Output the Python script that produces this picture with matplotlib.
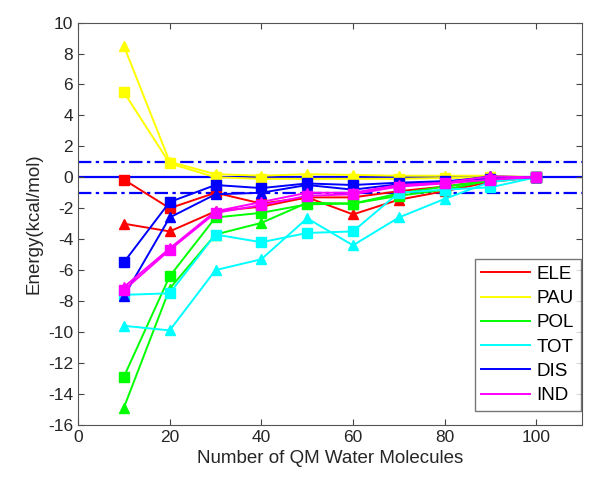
"""Energy convergence vs number of QM water molecules."""

import matplotlib

matplotlib.use("Agg")
import matplotlib.pyplot as plt
from matplotlib.lines import Line2D

n_water = [10, 20, 30, 40, 50, 60, 70, 80, 90, 100]

ele_sq = [-0.15, -2.0, -1.0, -1.7, -1.3, -1.3, -0.9, -0.6, -0.2, 0.0]
ele_tri = [-3.0, -3.5, -2.2, -1.9, -1.3, -2.4, -1.45, -0.9, -0.3, 0.0]
pau_sq = [5.5, 0.9, 0.0, -0.1, -0.1, -0.1, -0.1, -0.05, 0.0, 0.0]
pau_tri = [8.5, 1.0, 0.2, 0.1, 0.2, 0.15, 0.1, 0.1, 0.1, 0.0]
pol_sq = [-12.9, -6.4, -2.6, -2.3, -1.75, -1.7, -1.2, -0.8, -0.2, 0.0]
pol_tri = [-14.9, -7.2, -3.7, -2.95, -1.65, -1.7, -1.05, -0.6, -0.2, 0.0]
tot_sq = [-7.6, -7.5, -3.7, -4.2, -3.6, -3.5, -1.0, -0.8, -0.65, 0.0]
tot_tri = [-9.6, -9.9, -6.0, -5.3, -2.65, -4.4, -2.6, -1.4, -0.3, 0.0]
dis_sq = [-5.5, -1.6, -0.5, -0.7, -0.4, -0.5, -0.35, -0.25, -0.1, 0.0]
dis_tri = [-7.7, -2.6, -1.1, -1.0, -0.5, -0.8, -0.45, -0.3, 0.05, 0.0]
ind_sq = [-7.3, -4.7, -2.3, -1.8, -1.2, -1.1, -0.6, -0.4, -0.15, 0.0]
ind_tri = [-7.1, -4.6, -2.2, -1.6, -1.0, -1.0, -0.5, -0.35, 0.05, 0.0]

labels = ["ELE", "PAU", "POL", "TOT", "DIS", "IND"]
colors = ["#ff0000", "#ffff00", "#00ff00", "#00ffff", "#0000ff", "#ff00ff"]
series = [
    (ele_sq, ele_tri),
    (pau_sq, pau_tri),
    (pol_sq, pol_tri),
    (tot_sq, tot_tri),
    (dis_sq, dis_tri),
    (ind_sq, ind_tri),
]

plt.rcParams["font.family"] = ["Liberation Sans", "DejaVu Sans"]
plt.rcParams["axes.unicode_minus"] = False

fig = plt.figure(figsize=(5.91, 4.8), dpi=100)
ax = fig.add_axes([0.132, 0.115, 0.853, 0.838])

ax.axhline(0, color="#0000ff", lw=1.6, zorder=1)
ax.axhline(1, color="#0000ff", lw=1.6, ls=(0, (6, 2, 1.5, 2)), zorder=1)
ax.axhline(-1, color="#0000ff", lw=1.6, ls=(0, (6, 2, 1.5, 2)), zorder=1)

for (sq, tri), c in zip(series, colors):
    ax.plot(n_water, sq, color=c, lw=1.4, marker="s", ms=7, zorder=2)
    ax.plot(n_water, tri, color=c, lw=1.4, marker="^", ms=7.5, zorder=2)

ax.set_xlim(0, 110)
ax.set_ylim(-16, 10)
ax.set_xticks(range(0, 101, 20))
ax.set_yticks(range(-16, 11, 2))
ax.tick_params(direction="in", top=True, right=True, labelsize=12.5, length=4,
               color="#444444", labelcolor="#262626")
for sp in ax.spines.values():
    sp.set_color("#555555")
    sp.set_linewidth(0.8)
ax.set_xlabel("Number of QM Water Molecules", fontsize=13.5, color="#262626")
ax.set_ylabel("Energy(kcal/mol)", fontsize=13.5, color="#262626")

handles = [Line2D([], [], color=c, lw=1.4) for c in colors]
ax.legend(handles, labels, loc="lower right", bbox_to_anchor=(0.997, 0.035),
          fontsize=13.5, frameon=True, fancybox=False, edgecolor="#555555",
          handlelength=2.6, borderpad=0.35, labelspacing=0.38, handletextpad=0.35,
          borderaxespad=0.0)

fig.savefig("out.png", dpi=100)
plt.close(fig)
